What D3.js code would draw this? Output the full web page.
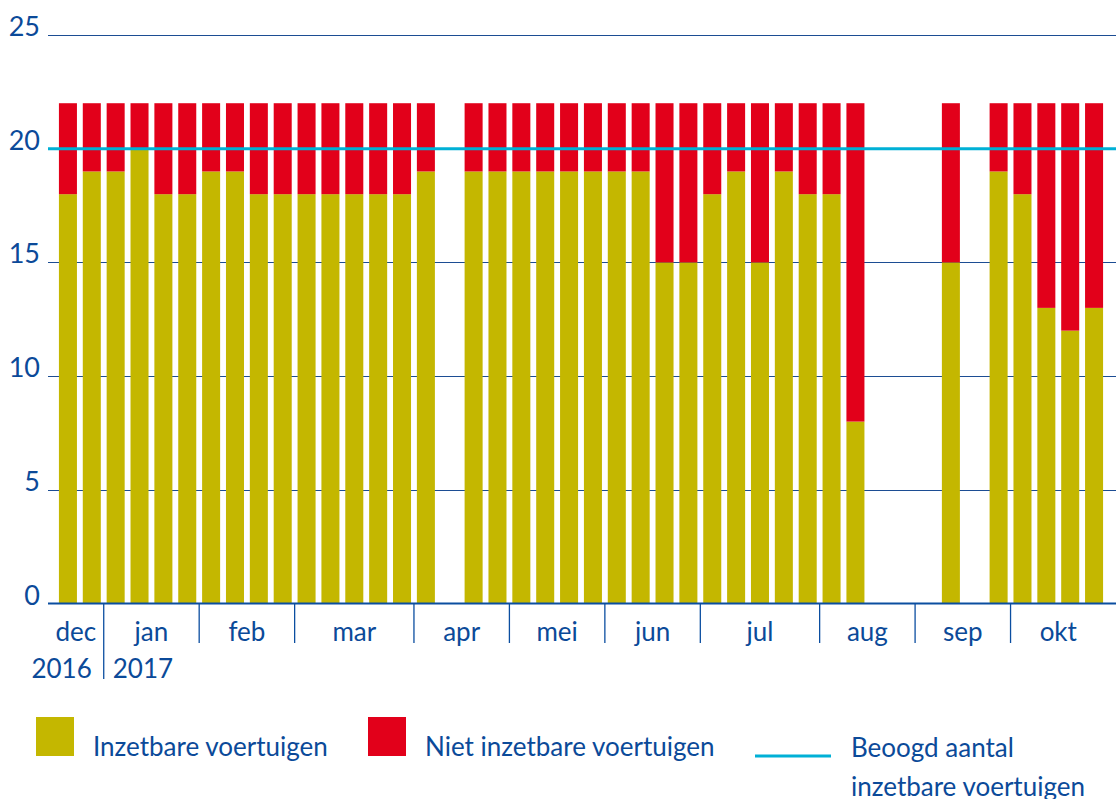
<!DOCTYPE html>
<html>
<head>
<meta charset="utf-8">
<script src="https://cdn.jsdelivr.net/npm/d3@7/dist/d3.min.js"></script>
<style>
  html, body { margin: 0; padding: 0; background: #ffffff; }
  svg { display: block; }
  text { font-family: Lato, "Open Sans", sans-serif; fill: #0b4a99; }
</style>
</head>
<body>
<svg id="chart" width="1116" height="799"></svg>
<script>
// ---- data ----
const weeks = d3.range(44); // weekly slots, dec 2016 – okt 2017
const inzetbaar = [18,19,19,20,18,18,19,19,18,18,18,18,18,18,18,19,
                   null,19,19,19,19,19,19,19,19,15,15,18,19,15,19,18,18,8,
                   null,null,null,15,null,19,18,13,12,13];
const nietInzetbaar = [4,3,3,2,4,4,3,3,4,4,4,4,4,4,4,3,
                   null,3,3,3,3,3,3,3,3,7,7,4,3,7,3,4,4,14,
                   null,null,null,7,null,3,4,9,10,9];
const doel = 20;
const months = ["dec","jan","feb","mar","apr","mei","jun","jul","aug","sep","okt"];
const monthStart = [0,2,6,10,15,19,23,27,32,36,40];
const years = ["2016","2017"];
const yTicks = [0,5,10,15,20,25];
const legendLabels = ["Inzetbare voertuigen","Niet inzetbare voertuigen","Beoogd aantal","inzetbare voertuigen"];

// ---- styles ----
const cYellow = "#c4b700", cRed = "#e2001a", cCyan = "#00b0d6", cBlue = "#0b4a99", cGrid = "#1c4d93";

const svg = d3.select("#chart");
const plotLeft = 48, plotRight = 1116;

const x = d3.scaleBand().domain(weeks).range([56, 1106]).paddingInner(0.245).paddingOuter(0.1225);
const y = d3.scaleLinear().domain([0, 25]).range([603.5, 35]);
const step = x.step();
const boundary = i => 56 + x.paddingOuter()*step + i*step - x.paddingInner()*step/2;

// gridlines
svg.append("g").selectAll("line").data(yTicks.filter(d => d > 0)).join("line")
  .attr("x1", plotLeft).attr("x2", plotRight)
  .attr("y1", d => Math.round(y(d)) + 0.5).attr("y2", d => Math.round(y(d)) + 0.5)
  .attr("stroke", cGrid).attr("stroke-width", 1);

// y labels
svg.append("g").selectAll("text").data(yTicks).join("text")
  .attr("x", 40).attr("y", d => y(d) + 1)
  .attr("text-anchor", "end").attr("font-size", 27)
  .text(d => d);

// bars
const barData = weeks.map(i => ({i, a: inzetbaar[i], b: nietInzetbaar[i]})).filter(d => d.a != null);
svg.append("g").selectAll("rect").data(barData).join("rect")
  .attr("x", d => x(d.i)).attr("width", x.bandwidth())
  .attr("y", d => y(d.a)).attr("height", d => y(0) - y(d.a))
  .attr("fill", cYellow);
svg.append("g").selectAll("rect").data(barData).join("rect")
  .attr("x", d => x(d.i)).attr("width", x.bandwidth())
  .attr("y", d => y(d.a + d.b)).attr("height", d => y(d.a) - y(d.a + d.b))
  .attr("fill", cRed);

// target line
svg.append("line")
  .attr("x1", plotLeft).attr("x2", plotRight)
  .attr("y1", y(doel)).attr("y2", y(doel))
  .attr("stroke", cCyan).attr("stroke-width", 3);

// x axis line
svg.append("line")
  .attr("x1", plotLeft).attr("x2", plotRight)
  .attr("y1", y(0)).attr("y2", y(0))
  .attr("stroke", "#0b4ea0").attr("stroke-width", 2);

// month separators
svg.append("g").selectAll("line").data(monthStart.slice(1)).join("line")
  .attr("x1", d => boundary(d)).attr("x2", d => boundary(d))
  .attr("y1", y(0)).attr("y2", (d, k) => k === 0 ? 679 : 643)
  .attr("stroke", "#0b4ea0").attr("stroke-width", 1.3);

// month labels
const monthEdges = monthStart.map((s, k) => [k === 0 ? plotLeft : boundary(s), k < months.length - 1 ? boundary(monthStart[k+1]) : boundary(44)]);
svg.append("g").selectAll("text").data(months).join("text")
  .attr("x", (d, k) => (monthEdges[k][0] + monthEdges[k][1]) / 2)
  .attr("y", 641).attr("text-anchor", "middle").attr("font-size", 26)
  .text(d => d);

// years
const sep = boundary(monthStart[1]);
svg.append("text").attr("x", sep - 12).attr("y", 678).attr("text-anchor", "end").attr("font-size", 26).text(years[0]);
svg.append("text").attr("x", sep + 9).attr("y", 678).attr("text-anchor", "start").attr("font-size", 26).text(years[1]);

// legend
const lg = svg.append("g");
lg.append("rect").attr("x", 36).attr("y", 717).attr("width", 38).attr("height", 39).attr("fill", cYellow);
lg.append("text").attr("x", 93).attr("y", 756).attr("font-size", 26).text(legendLabels[0]);
lg.append("rect").attr("x", 368).attr("y", 717).attr("width", 38).attr("height", 39).attr("fill", cRed);
lg.append("text").attr("x", 425).attr("y", 756).attr("font-size", 26).text(legendLabels[1]);
lg.append("line").attr("x1", 755).attr("x2", 831).attr("y1", 756).attr("y2", 756)
  .attr("stroke", cCyan).attr("stroke-width", 3);
lg.append("text").attr("x", 851).attr("y", 757).attr("font-size", 26).text(legendLabels[2]);
lg.append("text").attr("x", 851).attr("y", 796).attr("font-size", 26).text(legendLabels[3]);
</script>
</body>
</html>
